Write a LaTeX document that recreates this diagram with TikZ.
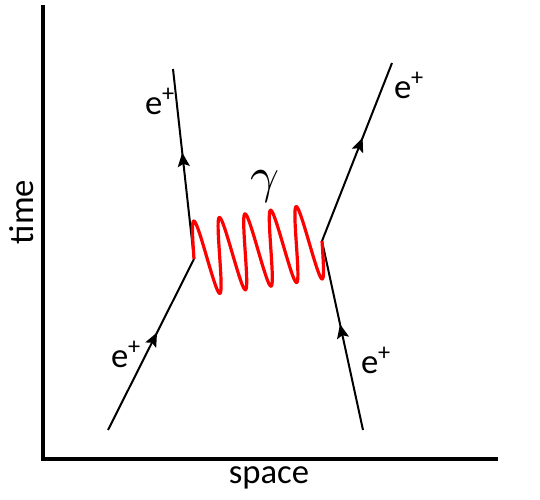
\documentclass[tikz,border=0pt]{standalone}
\usepackage{fontspec}
\setmainfont{Carlito}
\usetikzlibrary{arrows.meta,decorations.markings}
\tikzset{
  fermion/.style={line width=1.5pt, postaction={decorate},
    decoration={markings, mark=at position #1 with {\arrow{Stealth[length=10.5pt,width=9pt,inset=2pt]}}}},
  fermion/.default=0.57,
  photon/.style={red, line width=2.4pt},
  axisline/.style={line width=3pt, line join=miter},
  lab/.style={font=\fontsize{26}{30}\selectfont, inner sep=0pt, anchor=base},
}
\begin{document}
\begin{tikzpicture}[x=0.75pt,y=-0.75pt]
\useasboundingbox (0,0) rectangle (540,500);
% axes
\coordinate (top) at (43,5);
\coordinate (origin) at (43,458.5);
\coordinate (right) at (498,458.5);
\draw[axisline] (top) -- (origin) -- (right);
\node[lab, rotate=90] (time) at (33,212) {time};
\node[lab] (space) at (269,483) {space};
% vertices and ends
\coordinate (A) at (108,430);
\coordinate (V1) at (194,259);
\coordinate (B) at (173,69);
\coordinate (C) at (363,430);
\coordinate (V2) at (322,241);
\coordinate (D) at (392,63);
\draw[fermion=0.57] (A) -- (V1);
\draw[fermion=0.56] (V1) -- (B);
\draw[fermion=0.56] (C) -- (V2);
\draw[fermion=0.58] (V2) -- (D);
% photon
\draw[photon] plot[domain=-90:1710, samples=500, variable=\t, smooth]
  ({194 + (\t+90)/1800*128 - 6.6*cos(\t)}, {259 - (\t+90)/1800*18 - 37*cos(\t)});
\node[inner sep=0pt, anchor=base] (gamma) at (265,192) {\scalebox{3.8}{$\gamma$}};
% labels
\node[lab] (eLU) at (160,114) {e\textsuperscript{+}};
\node[lab] (eRU) at (409,98) {e\textsuperscript{+}};
\node[lab] (eLL) at (126,367) {e\textsuperscript{+}};
\node[lab] (eRL) at (376,373) {e\textsuperscript{+}};
\end{tikzpicture}
\end{document}
